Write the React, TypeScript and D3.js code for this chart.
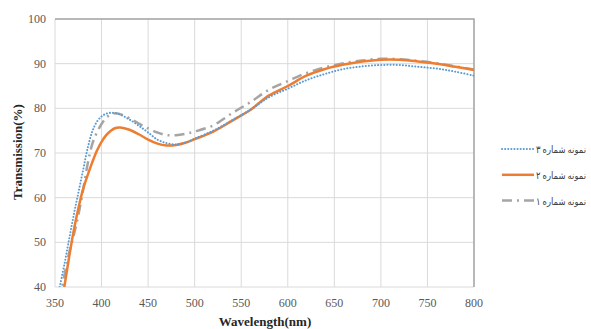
import React, { useEffect, useRef } from 'react';
import * as d3 from 'd3';

// wavelength grid (nm) shared by the three samples
const wavelengths = [
  355, 360, 365, 370, 375, 380, 385, 390, 395, 400, 405, 410, 415, 420, 430, 440, 450, 460, 470,
  480, 490, 500, 520, 540, 560, 580, 600, 620, 640, 660, 680, 700, 720, 740, 760, 780, 800,
];

// transmission (%)
const sample1 = [
  37, 42.5, 47.5, 51.5, 56, 61.5, 67.5, 72, 74.6, 76.5, 77.9, 78.6, 78.9, 78.7, 77.8, 76.6, 75.5,
  74.6, 74.0, 74.0, 74.3, 74.8, 76.2, 78.9, 81.4, 84.2, 86.1, 87.9, 89.2, 90.1, 90.7, 91.1, 91.0,
  90.6, 90.1, 89.4, 88.7,
];
const sample2 = [
  34, 40, 46.5, 52.5, 57.5, 61.8, 65, 67.9, 70.5, 72.5, 74.0, 75.0, 75.6, 75.7, 75.2, 74.2, 73.0,
  72.1, 71.7, 71.8, 72.3, 73.1, 74.8, 77.2, 79.7, 82.9, 85.0, 87.3, 88.8, 89.8, 90.5, 90.9, 90.9,
  90.5, 90.0, 89.3, 88.6,
];
const sample3 = [
  40, 45, 50.5, 56, 61, 66, 71, 74.8, 77.0, 78.2, 78.8, 79.0, 78.9, 78.6, 77.5, 76.1, 74.6, 73.0,
  72.2, 71.9, 72.3, 73.2, 75.0, 77.3, 79.7, 82.5, 84.4, 86.3, 87.7, 88.8, 89.4, 89.7, 89.7, 89.3,
  88.9, 88.2, 87.3,
];

const legendLabels = ['نمونه شماره ۳', 'نمونه شماره ۲', 'نمونه شماره ۱'];
const xTicks = [350, 400, 450, 500, 550, 600, 650, 700, 750, 800];
const yTicks = [40, 50, 60, 70, 80, 90, 100];

const App = () => {
  const chartRef = useRef<SVGSVGElement>(null);

  useEffect(() => {
    const svg = d3.select(chartRef.current);
    svg.selectAll('*').remove();
    const width = 591;
    const height = 329;
    const margin = { top: 19, right: 117, bottom: 42, left: 55 };
    const serif = "'Times New Roman', 'Liberation Serif', 'DejaVu Serif', serif";

    svg.attr('width', width).attr('height', height);

    const x = d3
      .scaleLinear()
      .domain([350, 800])
      .range([margin.left, width - margin.right]);

    const y = d3
      .scaleLinear()
      .domain([40, 100])
      .range([height - margin.bottom, margin.top]);

    // grid
    const grid = svg.append('g');
    xTicks.forEach(t => {
      grid
        .append('line')
        .attr('x1', x(t))
        .attr('x2', x(t))
        .attr('y1', y(40))
        .attr('y2', y(100))
        .attr('stroke', '#dadada')
        .attr('stroke-width', 1);
    });
    yTicks.forEach(t => {
      grid
        .append('line')
        .attr('x1', x(350))
        .attr('x2', x(800))
        .attr('y1', y(t))
        .attr('y2', y(t))
        .attr('stroke', '#dadada')
        .attr('stroke-width', 1);
    });
    // darker frame on top and right
    grid
      .append('path')
      .attr('d', `M${x(350)},${y(100)}H${x(800)}V${y(40)}`)
      .attr('fill', 'none')
      .attr('stroke', '#a6a6a6')
      .attr('stroke-width', 1.5);

    // tick labels
    svg
      .append('g')
      .selectAll('text')
      .data(yTicks)
      .join('text')
      .attr('x', margin.left - 9)
      .attr('y', d => y(d) + 4)
      .attr('text-anchor', 'end')
      .attr('font-family', serif)
      .attr('font-size', 12)
      .attr('fill', '#595959')
      .text(d => d);

    svg
      .append('g')
      .selectAll('text')
      .data(xTicks)
      .join('text')
      .attr('x', d => x(d))
      .attr('y', 307)
      .attr('text-anchor', 'middle')
      .attr('font-family', serif)
      .attr('font-size', 12)
      .attr('fill', '#595959')
      .text(d => d);

    // axis titles
    svg
      .append('text')
      .attr('transform', `translate(22,152) rotate(-90)`)
      .attr('text-anchor', 'middle')
      .attr('font-family', serif)
      .attr('font-weight', 'bold')
      .attr('font-size', 13)
      .attr('fill', '#262626')
      .text('Transmission(%)');

    svg
      .append('text')
      .attr('x', 265)
      .attr('y', 326)
      .attr('text-anchor', 'middle')
      .attr('font-family', serif)
      .attr('font-weight', 'bold')
      .attr('font-size', 13)
      .attr('fill', '#262626')
      .text('Wavelength(nm)');

    // clip to plot area
    svg
      .append('clipPath')
      .attr('id', 'plot-clip')
      .append('rect')
      .attr('x', x(350))
      .attr('y', y(100))
      .attr('width', x(800) - x(350))
      .attr('height', y(40) - y(100));

    const line = d3
      .line<number>()
      .curve(d3.curveCatmullRom)
      .x((d, i) => x(wavelengths[i]))
      .y(d => y(d));

    const series = [
      { values: sample1, color: '#a5a5a5', dash: '10,5,2,5', width: 2.5, cap: 'butt' },
      { values: sample2, color: '#ed7d31', dash: null, width: 2.5, cap: 'butt' },
      { values: sample3, color: '#5b9bd5', dash: '0.1,3', width: 2, cap: 'round' },
    ];

    const lines = svg.append('g').attr('clip-path', 'url(#plot-clip)');
    series.forEach(s => {
      lines
        .append('path')
        .datum(s.values)
        .attr('fill', 'none')
        .attr('stroke', s.color)
        .attr('stroke-width', s.width)
        .attr('stroke-linecap', s.cap)
        .attr('stroke-dasharray', s.dash)
        .attr('d', line);
    });

    // legend (sample 3, 2, 1 from top)
    const legendStyles = [series[2], series[1], series[0]];
    const legend = svg.append('g');
    legendLabels.forEach((label, i) => {
      const ly = 149 + i * 25.8;
      const s = legendStyles[i];
      legend
        .append('line')
        .attr('x1', 502)
        .attr('x2', 534)
        .attr('y1', ly)
        .attr('y2', ly)
        .attr('stroke', s.color)
        .attr('stroke-width', s.width)
        .attr('stroke-linecap', s.cap)
        .attr('stroke-dasharray', s.dash);
      legend
        .append('text')
        .attr('x', 536)
        .attr('y', ly + 4)
        .attr('font-family', "'Times New Roman', 'DejaVu Sans', serif")
        .attr('font-size', 10)
        .attr('textLength', 50)
        .attr('lengthAdjust', 'spacingAndGlyphs')
        .attr('fill', '#404040')
        .text(label);
    });
  }, []);

  return (
    <svg ref={chartRef} style={{ position: 'absolute', left: 0, top: 0, background: '#fff' }}></svg>
  );
};

export default App;
